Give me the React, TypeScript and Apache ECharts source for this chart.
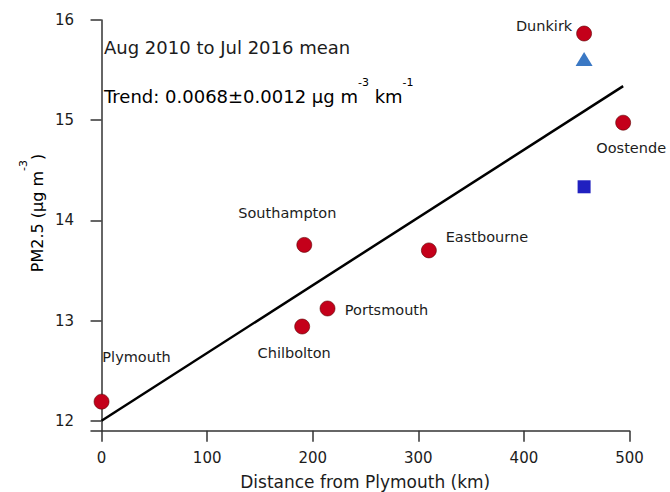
import { useEffect, useRef } from "react";
import * as echarts from "echarts";

// sites (red circles)
const siteNames = ["Plymouth", "Chilbolton", "Portsmouth", "Southampton", "Eastbourne", "Dunkirk", "Oostende"];
const siteDistance = [0, 190, 214, 192, 310, 457, 494];
const sitePM = [12.19, 12.94, 13.12, 13.755, 13.7, 15.865, 14.975];
// where each site name sits relative to its marker (px)
const labelOffsets = [
  [35, -45],
  [-8, 26],
  [59, 2],
  [-17, -32],
  [58, -13],
  [-40, -8],
  [8, 25],
];

// the two extra Dunkirk markers
const triangleDistance = [457];
const trianglePM = [15.61];
const squareDistance = [457];
const squarePM = [14.335];

// fitted trend line end points
const trendDistance = [0, 494];
const trendPM = [12.0, 15.34];

const xTicks = [0, 100, 200, 300, 400, 500];
const yTicks = [12, 13, 14, 15, 16];

const FONT = "'DejaVu Sans', sans-serif";
const INK = "#1c1c1c";

function App() {
  const chartRef = useRef(null);

  useEffect(() => {
    const chart = echarts.init(chartRef.current, null, { renderer: "svg" });

    const option = {
      animation: false,
      backgroundColor: "#ffffff",
      grid: {
        left: 91,
        right: 40.5,
        top: 20,
        bottom: 61.3,
        outerBoundsMode: "none",
      },
      xAxis: {
        type: "value",
        min: -10,
        max: 500,
        name: "Distance from Plymouth (km)",
        nameLocation: "middle",
        nameGap: 43,
        nameTextStyle: { fontFamily: FONT, fontSize: 17, color: INK, padding: [0, 0, 0, 10] },
        splitLine: { show: false },
        axisLine: { lineStyle: { color: "#333", width: 1.5 } },
        axisTick: {
          length: 11,
          customValues: xTicks,
          lineStyle: { color: "#333", width: 1.5 },
        },
        axisLabel: {
          customValues: xTicks,
          margin: 20,
          fontFamily: FONT,
          fontSize: 15,
          color: INK,
        },
      },
      yAxis: {
        type: "value",
        min: 11.9,
        max: 16,
        splitLine: { show: false },
        axisLine: { show: true, lineStyle: { color: "#333", width: 1.5 } },
        axisTick: {
          show: true,
          length: 11,
          customValues: yTicks,
          lineStyle: { color: "#333", width: 1.5 },
        },
        axisLabel: {
          customValues: yTicks,
          margin: 17,
          fontFamily: FONT,
          fontSize: 15,
          color: INK,
        },
      },
      graphic: [
        {
          type: "text",
          x: 37,
          y: 213,
          rotation: Math.PI / 2,
          style: {
            text: "{a|PM2.5 (μg m}{s|-3}{a|)}",
            align: "center",
            verticalAlign: "middle",
            rich: {
              a: { fontFamily: FONT, fontSize: 16, color: INK, lineHeight: 38 },
              s: { fontFamily: FONT, fontSize: 11, color: INK, lineHeight: 12, verticalAlign: "top" },
            },
          },
        },
        {
          type: "text",
          x: 104,
          y: 47,
          style: {
            text: "Aug 2010 to Jul 2016 mean",
            fontFamily: FONT,
            fontSize: 18,
            fill: INK,
            align: "left",
            verticalAlign: "middle",
          },
        },
        {
          type: "text",
          x: 104,
          y: 96,
          style: {
            text: "{a|Trend: 0.0068±0.0012 μg m}{s|-3}{a| km}{s|-1}",
            align: "left",
            verticalAlign: "middle",
            rich: {
              a: { fontFamily: FONT, fontSize: 18, color: INK, lineHeight: 38 },
              s: { fontFamily: FONT, fontSize: 11, color: INK, lineHeight: 12, verticalAlign: "top" },
            },
          },
        },
      ],
      series: [
        {
          name: "Trend",
          type: "line",
          data: trendDistance.map((d, i) => [d, trendPM[i]]),
          showSymbol: false,
          lineStyle: { color: "#000", width: 2.5 },
          z: 1,
        },
        {
          name: "Sites",
          type: "scatter",
          symbol: "circle",
          symbolSize: 15,
          itemStyle: { color: "#c4001a", borderColor: "#5a0000", borderWidth: 0.6, opacity: 1 },
          data: siteDistance.map((d, i) => ({
            value: [d, sitePM[i]],
            name: siteNames[i],
            label: { offset: labelOffsets[i] },
          })),
          label: {
            show: true,
            position: "inside",
            formatter: "{b}",
            fontFamily: FONT,
            fontSize: 14.5,
            color: INK,
            opacity: 1,
            textBorderWidth: 0,
          },
          z: 3,
        },
        {
          name: "Triangle",
          type: "scatter",
          symbol: "triangle",
          symbolSize: [17, 14],
          itemStyle: { color: "#3a78c4", opacity: 1 },
          data: triangleDistance.map((d, i) => [d, trianglePM[i]]),
          z: 3,
        },
        {
          name: "Square",
          type: "scatter",
          symbol: "rect",
          symbolSize: 13,
          itemStyle: { color: "#2020c0", opacity: 1 },
          data: squareDistance.map((d, i) => [d, squarePM[i]]),
          z: 3,
        },
      ],
    };

    chart.setOption(option);
    return () => {
      chart.dispose();
    };
  }, []);

  return (
    <div
      ref={chartRef}
      style={{ position: "fixed", left: 0, top: 0, width: "670px", height: "492px" }}
    ></div>
  );
}

export default App;
